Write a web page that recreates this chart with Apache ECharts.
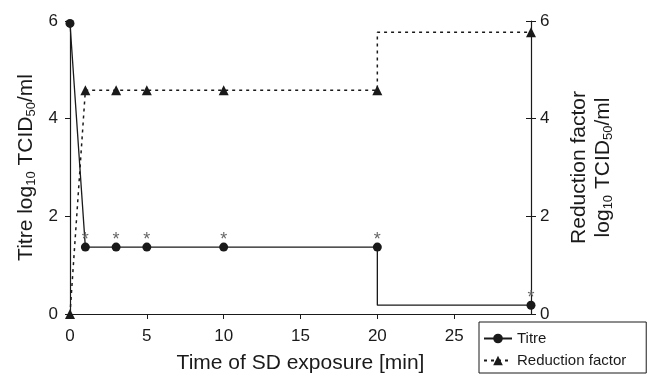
<!DOCTYPE html>
<html>
<head>
<meta charset="utf-8">
<script src="https://cdn.jsdelivr.net/npm/echarts@6/dist/echarts.min.js"></script>
<style>
  html, body { margin: 0; padding: 0; background: #fff; }
  #chart { width: 648px; height: 374px; }
</style>
</head>
<body>
<div id="chart"></div>
<script>
// time points (min); the repeated 20 is the vertical step of each line
const times = [0, 1, 3, 5, 10, 20, 20, 30];
const titreValues = [5.95, 1.37, 1.37, 1.37, 1.37, 1.37, 0.18, 0.18];
const reductionValues = [0, 4.58, 4.58, 4.58, 4.58, 4.58, 5.77, 5.77];
const titreMarks = ["", "*", "*", "*", "*", "*", "", "*"];
const hasSymbol = [true, true, true, true, true, true, false, true];
const xTicks = [0, 5, 10, 15, 20, 25, 30];
const yTicks = [0, 2, 4, 6];

const ink = "#1a1a1a";
const font = "Liberation Sans, Arial, sans-serif";
const subStyle = { fontSize: 13, fontFamily: font, color: ink, padding: [10, 0, 0, 0] };

const chart = echarts.init(document.getElementById("chart"));

const titreData = times.map((t, i) => ({
  value: [t, titreValues[i]],
  symbol: hasSymbol[i] ? "circle" : "none",
  label: { show: titreMarks[i] !== "", formatter: titreMarks[i] },
}));

const reductionData = times.map((t, i) => ({
  value: [t, reductionValues[i]],
  symbol: hasSymbol[i] ? "triangle" : "none",
}));

const yAxisBase = {
  type: "value",
  min: yTicks[0],
  max: yTicks[yTicks.length - 1],
  interval: 2,
  splitLine: { show: false },
  axisLine: { show: true, lineStyle: { color: ink, width: 1.2 } },
  axisTick: { show: true, length: 5, lineStyle: { color: ink } },
  axisLabel: { color: ink, fontSize: 17, fontFamily: font, margin: 12 },
  nameLocation: "middle",
};

chart.setOption({
  animation: false,
  backgroundColor: "#fff",
  grid: { left: 70, right: 117, top: 21, bottom: 60, containLabel: false, outerBoundsMode: "none" },
  legend: {
    orient: "vertical",
    left: 479,
    top: 322,
    padding: [9, 20, 5, 4],
    itemWidth: 28,
    itemHeight: 12,
    itemGap: 7,
    backgroundColor: "#fff",
    borderColor: ink,
    borderWidth: 1,
    borderRadius: 0,
    textStyle: { color: ink, fontSize: 15, fontFamily: font },
    data: ["Titre", "Reduction factor"],
  },
  xAxis: {
    type: "value",
    min: xTicks[0],
    max: xTicks[xTicks.length - 1],
    interval: 5,
    splitLine: { show: false },
    axisLine: { lineStyle: { color: ink, width: 1.2 } },
    axisTick: { show: true, length: 5, lineStyle: { color: ink } },
    axisLabel: { color: ink, fontSize: 17, fontFamily: font, margin: 14, showMaxLabel: false },
    name: "Time of SD exposure [min]",
    nameLocation: "middle",
    nameGap: 39,
    nameTextStyle: { color: ink, fontSize: 21, fontFamily: font },
  },
  yAxis: [
    {
      ...yAxisBase,
      position: "left",
      name: "Titre log{sub|10} TCID{sub|50}/ml",
      nameGap: 28,
      nameTextStyle: { color: ink, fontSize: 21, fontFamily: font, rich: { sub: subStyle } },
    },
    {
      ...yAxisBase,
      position: "right",
      axisLabel: { ...yAxisBase.axisLabel, margin: 9 },
      name: "Reduction factor\nlog{sub|10} TCID{sub|50}/ml",
      nameGap: 36,
      nameTextStyle: {
        color: ink, fontSize: 21, fontFamily: font, align: "center", lineHeight: 24,
        rich: { sub: subStyle },
      },
    },
    {
      ...yAxisBase,
      position: "right",
      axisLine: { show: false },
      axisTick: { show: true, inside: true, length: 5, lineStyle: { color: ink } },
      axisLabel: { show: false },
    },
  ],
  series: [
    {
      name: "Titre",
      type: "line",
      yAxisIndex: 0,
      symbol: "circle",
      symbolSize: 9,
      itemStyle: { color: ink },
      lineStyle: { color: ink, width: 1.3 },
      label: {
        position: "top",
        distance: -6,
        color: "#666",
        fontSize: 18,
        fontFamily: font,
      },
      data: titreData,
      z: 3,
    },
    {
      name: "Reduction factor",
      type: "line",
      yAxisIndex: 1,
      symbol: "triangle",
      symbolSize: 10,
      itemStyle: { color: ink },
      lineStyle: { color: ink, width: 1.5, type: [3, 4] },
      data: reductionData,
      z: 2,
    },
  ],
});
</script>
</body>
</html>
